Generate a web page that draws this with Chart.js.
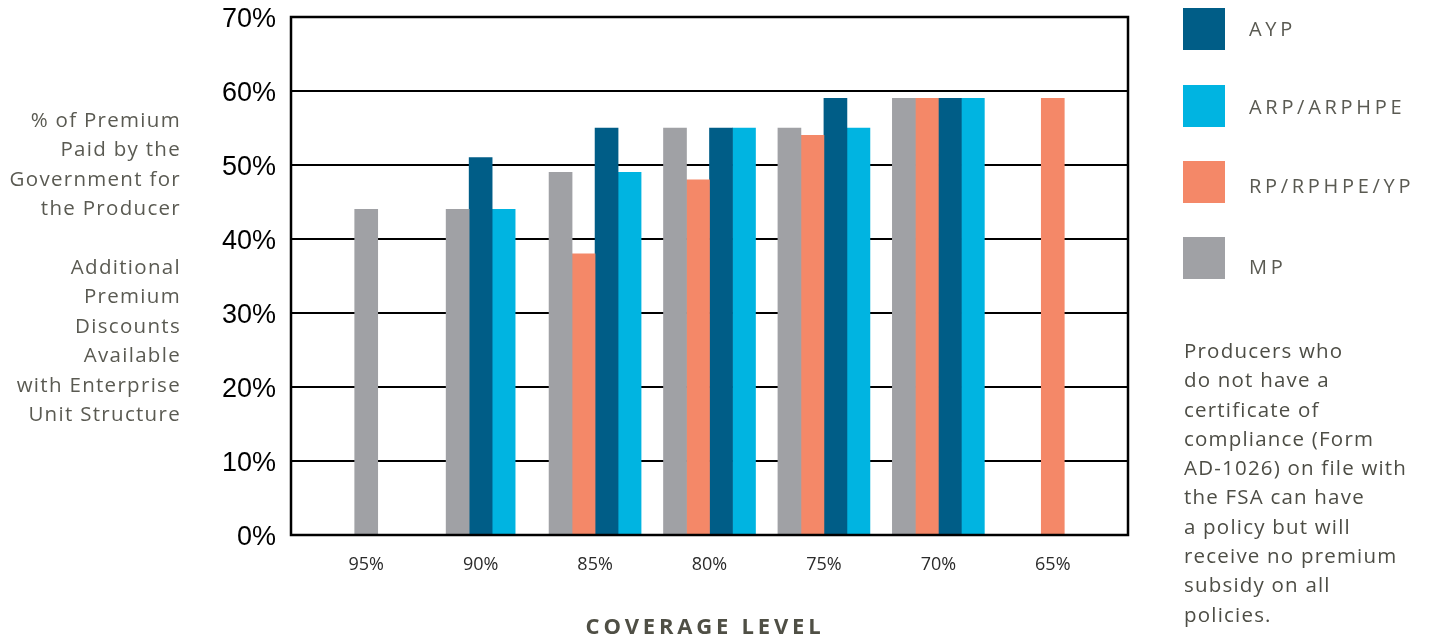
<!DOCTYPE html>
<html>
<head>
<meta charset="utf-8">
<script src="https://cdn.jsdelivr.net/npm/chart.js@4.4.1/dist/chart.umd.min.js"></script>
<style>
  html, body { margin: 0; padding: 0; background: #fff; }
  #wrap { position: relative; width: 1434px; height: 639px; overflow: hidden; }
  #grafico { position: absolute; left: 0; top: 0; }
  .txt { position: absolute; font-family: "Open Sans", sans-serif; font-size: 20.5px; color: #5a5a52; white-space: pre; }
  #esq { right: 1253px; top: 105px; line-height: 29.4px; text-align: right; letter-spacing: 1.3px; }
  #nota { left: 1184px; top: 336px; line-height: 29.3px; color: #4d4d45; letter-spacing: 1.2px; }
  #titulo { left: 455px; width: 500px; top: 610px; text-align: center; font-family: "Open Sans", sans-serif;
            font-weight: 700; font-size: 22px; letter-spacing: 3.8px; color: #4f4f45; position: absolute; }
  .leg-box { position: absolute; left: 1183px; width: 42px; height: 42px; }
  .leg-txt { position: absolute; left: 1249px; font-family: "Open Sans", sans-serif; font-size: 20px;
             letter-spacing: 3.7px; color: #5a5a52; line-height: 20px; }
</style>
</head>
<body>
<div id="wrap">
  <canvas id="grafico" width="1434" height="639"></canvas>
  <div class="txt" id="esq">% of Premium
Paid by the
Government for
the Producer

Additional
Premium
Discounts
Available
with Enterprise
Unit Structure</div>
  <div id="legenda"></div>
  <div class="txt" id="nota">Producers who
do not have a
certificate of
compliance (Form
AD-1026) on file with
the FSA can have
a policy but will
receive no premium
subsidy on all
policies.</div>
  <div id="titulo">COVERAGE LEVEL</div>
</div>
<script>
// ===== DADOS =====
const niveis = ['95%', '90%', '85%', '80%', '75%', '70%', '65%'];
const ticksY = [0, 10, 20, 30, 40, 50, 60, 70];

const mp  = [44, 44, 49, 55, 55, 59, null];
const rp  = [null, null, 38, 48, 54, 59, 59];
const ayp = [null, 51, 55, 55, 59, 59, null];
const arp = [null, 44, 49, 55, 55, 59, null];

const cores = { mp: '#a0a1a5', rp: '#f48868', ayp: '#005d87', arp: '#00b4e1' };

// legenda (ordem da figura)
const legenda = [
  { nome: 'AYP', cor: cores.ayp, y: 8, ty: 29 },
  { nome: 'ARP/ARPHPE', cor: cores.arp, y: 85, ty: 107 },
  { nome: 'RP/RPHPE/YP', cor: cores.rp, y: 161, ty: 186 },
  { nome: 'MP', cor: cores.mp, y: 237, ty: 267 }
];

const legDiv = document.getElementById('legenda');
legenda.forEach(l => {
  const box = document.createElement('div');
  box.className = 'leg-box';
  box.style.top = l.y + 'px';
  box.style.background = l.cor;
  const t = document.createElement('div');
  t.className = 'leg-txt';
  t.style.top = (l.ty - 10) + 'px';
  t.textContent = l.nome;
  legDiv.appendChild(box);
  legDiv.appendChild(t);
});

// ===== MOLDURA + GRADE =====
const EXTRA = 18;
const moldura = {
  id: 'moldura',
  beforeDatasetsDraw(chart) {
    const { ctx, chartArea, scales } = chart;
    const x0 = chartArea.left - EXTRA;
    const x1 = chartArea.right + EXTRA;
    ctx.save();
    ctx.strokeStyle = '#000';
    ctx.lineWidth = 2;
    ticksY.forEach(v => {
      const y = Math.round(scales.y.getPixelForValue(v));
      ctx.beginPath();
      ctx.moveTo(x0, y);
      ctx.lineTo(x1, y);
      ctx.stroke();
    });
    ctx.restore();
  },
  afterDatasetsDraw(chart) {
    const { ctx, chartArea, scales } = chart;
    const x0 = chartArea.left - EXTRA;
    const x1 = chartArea.right + EXTRA;
    const yt = Math.round(scales.y.getPixelForValue(70));
    const yb = Math.round(scales.y.getPixelForValue(0));
    ctx.save();
    ctx.strokeStyle = '#000';
    ctx.lineWidth = 2.5;
    ctx.strokeRect(x0, yt, x1 - x0, yb - yt);
    ctx.restore();
  }
};

// ===== GRÁFICO =====
const serie = (label, data, cor) => ({
  label, data, backgroundColor: cor, borderWidth: 0,
  barThickness: 23, skipNull: true
});

new Chart(document.getElementById('grafico'), {
  type: 'bar',
  data: {
    labels: niveis,
    datasets: [
      serie('MP', mp, cores.mp),
      serie('RP/RPHPE/YP', rp, cores.rp),
      serie('AYP', ayp, cores.ayp),
      serie('ARP/ARPHPE', arp, cores.arp)
    ]
  },
  options: {
    responsive: false,
    animation: false,
    layout: { padding: { left: 0, right: 324, top: 17, bottom: 0 } },
    plugins: { legend: { display: false }, tooltip: { enabled: false } },
    scales: {
      x: {
        offset: true,
        grid: { display: false },
        border: { display: false },
        ticks: { color: '#2b2b2b', font: { family: 'Open Sans', size: 18 }, padding: 11 },
        afterFit(scale) { scale.height = 104; scale.paddingLeft = 0; scale.paddingRight = 0; }
      },
      y: {
        min: 0,
        max: 70,
        grid: { display: false, drawTicks: false },
        border: { display: false },
        ticks: {
          stepSize: 10,
          padding: 33,
          labelOffset: 3,
          color: '#000',
          font: { family: 'Liberation Sans', size: 27 },
          callback: v => v + '%'
        },
        afterFit(scale) { scale.width = 309; scale.paddingTop = 0; scale.paddingBottom = 0; }
      }
    }
  },
  plugins: [moldura]
});
</script>
</body>
</html>
